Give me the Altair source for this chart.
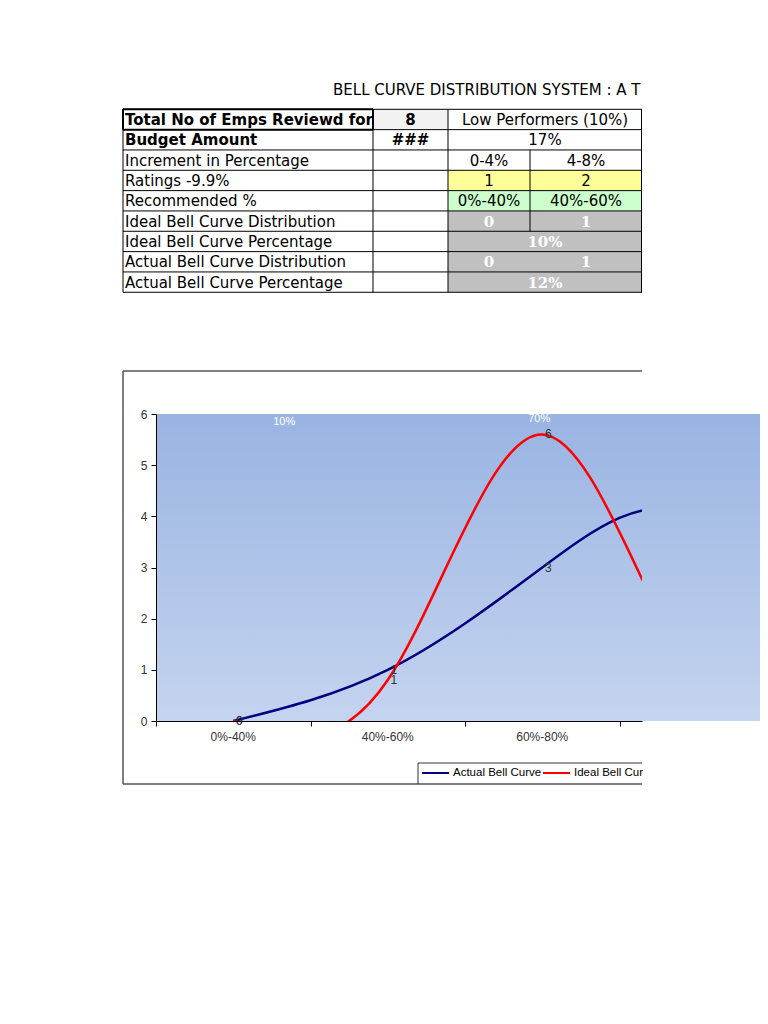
import altair as alt
import pandas as pd

# ---------------- data ----------------
title_text = "BELL CURVE DISTRIBUTION SYSTEM : A T"
row_labels = ["Total No of Emps Reviewd for", "Budget Amount", "Increment in Percentage",
              "Ratings -9.9%", "Recommended %", "Ideal Bell Curve Distribution",
              "Ideal Bell Curve Percentage", "Actual Bell Curve Distribution",
              "Actual Bell Curve Percentage"]
col_values = ["8", "###", "", "", "", "", "", "", ""]
group_label = "Low Performers (10%)"
budget_share = "17%"
increments = ["0-4%", "4-8%"]
ratings = ["1", "2"]
categories = ["0%-40%", "40%-60%", "60%-80%", "80%-90%", "90%-100%"]
actual = [0, 1, 3, 4, 0]
ideal = [0, 0.8, 5.6, 0.8, 0.8]
ideal_share = "10%"
actual_share = "12%"
series_names = ["Actual Bell Curve", "Ideal Bell Curve"]
series_colors = ["#000080", "#ff0000"]
band_labels = ["10%", "70%"]
band_label_pos = [0.83, 2.48]
band_label_val = [5.85, 5.9]
y_ticks = [0, 1, 2, 3, 4, 5, 6]

# ---------------- layout (page pixels) ----------------
OX, OY = 156, 414          # plot origin on the page
W, H = 486, 307            # visible plot area
CAT = 154.5                # width of one category band
XMAX = W / CAT
PAGE_RIGHT = 760           # right edge of the drawable page area
TFONT = 15


def px(x):
    return x - OX


def py(y):
    return y - OY


COLS = [123, 373, 448, 530, 642]
TOP, RH = 109.3, 20.33


def ry(i):
    return TOP + RH * i


def rc(i):
    return py(ry(i) + RH / 2 + 0.5)


C1 = (COLS[1] + COLS[2]) / 2
C2 = (COLS[2] + COLS[3]) / 2
C3 = (COLS[3] + COLS[4]) / 2
CM = (COLS[2] + COLS[4]) / 2

# ---------------- table content ----------------
txt = []  # text, x, y, style, align
for i, lab in enumerate(row_labels):
    txt.append((lab, px(125), rc(i), "bold" if i < 2 else "normal", "left"))
for i, v in enumerate(col_values):
    if v:
        txt.append((v, px(C1), rc(i), "bold" if i < 2 else "normal", "center"))
txt.append((group_label, px(CM), rc(0), "normal", "center"))
txt.append((budget_share, px(CM), rc(1), "normal", "center"))
for j, cx in enumerate([C2, C3]):
    txt.append((increments[j], px(cx), rc(2), "normal", "center"))
    txt.append((ratings[j], px(cx), rc(3), "normal", "center"))
    txt.append((categories[j], px(cx), rc(4), "normal", "center"))
    txt.append((f"{ideal[j]:.0f}", px(cx), rc(5), "white", "center"))
    txt.append((f"{actual[j]:.0f}", px(cx), rc(7), "white", "center"))
txt.append((ideal_share, px(CM), rc(6), "white", "center"))
txt.append((actual_share, px(CM), rc(8), "white", "center"))
tdf = pd.DataFrame(txt, columns=["text", "x", "y", "style", "align"])

fills = pd.DataFrame([
    (px(COLS[1]), px(COLS[2]), py(ry(0)), py(ry(1)), "#f2f2f2"),
    (px(COLS[2]), px(COLS[4]), py(ry(3)), py(ry(4)), "#ffff99"),
    (px(COLS[2]), px(COLS[4]), py(ry(4)), py(ry(5)), "#ccffcc"),
    (px(COLS[2]), px(COLS[4]), py(ry(5)), py(ry(9)), "#c0c0c0"),
], columns=["x", "x2", "y", "y2", "fill"])

rules = []
for i in range(10):
    rules.append((px(COLS[0]), px(COLS[4]), py(ry(i)), py(ry(i))))
for c in [COLS[0], COLS[1], COLS[2], COLS[4] - 0.5]:
    rules.append((px(c), px(c), py(ry(0)), py(ry(9))))
rules.append((px(COLS[3]), px(COLS[3]), py(ry(2)), py(ry(6))))
rdf = pd.DataFrame(rules, columns=["x", "x2", "y", "y2"])

thick = pd.DataFrame([
    (px(COLS[0]), px(COLS[1]), py(ry(0)), py(ry(0))),
    (px(COLS[0]), px(COLS[1]), py(ry(1)), py(ry(1))),
    (px(COLS[0]), px(COLS[0]), py(ry(0)), py(ry(1))),
    (px(COLS[1]), px(COLS[1]), py(ry(0)), py(ry(1))),
], columns=["x", "x2", "y", "y2"])

frame = pd.DataFrame([
    (px(123), px(642), py(371), py(371)),
    (px(123), px(123), py(371), py(784)),
    (px(123), px(642), py(784), py(784)),
], columns=["x", "x2", "y", "y2"])

legbox = pd.DataFrame([
    (px(418), px(642), py(763), py(763)),
    (px(418), px(418), py(763), py(784)),
], columns=["x", "x2", "y", "y2"])

LEG_X0, LEG_STEP, LEG_Y = 422, 121, 773
leg = pd.DataFrame({
    "series": series_names,
    "x": [px(LEG_X0 + k * LEG_STEP) for k in range(len(series_names))],
    "x2": [px(LEG_X0 + 27 + k * LEG_STEP) for k in range(len(series_names))],
    "tx": [px(LEG_X0 + 31 + k * LEG_STEP) for k in range(len(series_names))],
    "y": [py(LEG_Y)] * len(series_names),
})

# ---------------- series data ----------------
pos = [i + 0.5 for i in range(len(categories))]
long = pd.concat([
    pd.DataFrame({"series": s, "pos": pos, "cat": categories, "value": vals})
    for s, vals in zip(series_names, [actual, ideal])
], ignore_index=True)
cats = pd.DataFrame({"pos": pos, "cat": categories})
bands = pd.DataFrame({"text": band_labels, "pos": band_label_pos, "value": band_label_val})

x_scale = alt.Scale(domain=[0, XMAX], nice=False, zero=False)
y_scale = alt.Scale(domain=[0, 6], nice=False)
x_axis = alt.Axis(values=list(range(int(XMAX) + 1)), labels=False, tickSize=5,
                  tickColor="black", domainColor="black", grid=False, title=None, zindex=1)
y_axis = alt.Axis(values=y_ticks, tickSize=5, tickColor="black", domainColor="black",
                  labelFont="Liberation Sans", labelFontSize=12, labelColor="#333333",
                  labelPadding=4, grid=False, title=None, zindex=1)
X_ENC = alt.X("pos:Q", scale=x_scale, axis=x_axis)
Y_ENC = alt.Y("value:Q", scale=y_scale, axis=y_axis)
color_scale = alt.Scale(domain=series_names, range=series_colors)

PX_X = alt.X("x:Q", scale=None, axis=None)
PX_X2 = alt.X2("x2:Q")
PX_Y = alt.Y("y:Q", scale=None, axis=None)
PX_Y2 = alt.Y2("y2:Q")

# ---------------- layers ----------------
background = alt.Chart(pd.DataFrame({"a": [0]})).mark_rect(
    fill={"gradient": "linear", "x1": 0, "x2": 0, "y1": 0, "y2": 1,
          "stops": [{"offset": 0, "color": "#99b4e2"}, {"offset": 1, "color": "#c5d4ef"}]}
).encode(x=alt.value(0), x2=alt.value(px(PAGE_RIGHT)), y=alt.value(0), y2=alt.value(H))

lines = alt.Chart(long).mark_line(interpolate="natural", strokeWidth=2.5, clip=True).encode(
    x=X_ENC, y=Y_ENC,
    color=alt.Color("series:N", scale=color_scale, legend=None),
)

point_labels = alt.Chart(long).transform_filter(f"datum.pos < {XMAX}").mark_text(
    align="center", baseline="middle", dx=6, font="Liberation Sans", fontSize=12, color="#333333"
).encode(x=X_ENC, y=Y_ENC, text=alt.Text("value:Q", format=".0f"))

band_text = alt.Chart(bands).mark_text(
    align="center", baseline="middle", font="Liberation Sans", fontSize=11, color="white"
).encode(x=X_ENC, y=Y_ENC, text="text:N")

cat_labels = alt.Chart(cats).transform_filter(f"datum.pos < {XMAX}").mark_text(
    align="center", baseline="middle", dy=16, font="Liberation Sans", fontSize=12, color="#333333"
).encode(x=X_ENC, y=alt.value(H), text="cat:N")

fill_layer = alt.Chart(fills).mark_rect().encode(
    x=PX_X, x2=PX_X2, y=PX_Y, y2=PX_Y2, fill=alt.Fill("fill:N", scale=None))

grid_layer = alt.Chart(rdf).mark_rule(color="black", strokeWidth=1).encode(
    x=PX_X, x2=PX_X2, y=PX_Y, y2=PX_Y2)
thick_layer = alt.Chart(thick).mark_rule(color="black", strokeWidth=2).encode(
    x=PX_X, x2=PX_X2, y=PX_Y, y2=PX_Y2)
frame_layer = alt.Chart(frame).mark_rule(color="#555555", strokeWidth=1.5).encode(
    x=PX_X, x2=PX_X2, y=PX_Y, y2=PX_Y2)
legbox_layer = alt.Chart(legbox).mark_rule(color="#333333", strokeWidth=1).encode(
    x=PX_X, x2=PX_X2, y=PX_Y, y2=PX_Y2)

leg_sym = alt.Chart(leg).mark_rule(strokeWidth=2).encode(
    x=PX_X, x2=PX_X2, y=PX_Y,
    color=alt.Color("series:N", scale=color_scale, legend=None))
leg_text_layers = []
for k, s in enumerate(series_names):
    leg_text_layers.append(
        alt.Chart(leg).transform_filter(alt.datum.series == s).mark_text(
            align="left", baseline="middle", font="Liberation Sans", fontSize=11.5, color="black",
            limit=px(645) - leg["tx"][k], ellipsis="\u200b"
        ).encode(x=alt.X("tx:Q", scale=None, axis=None), y=PX_Y, text="series:N"))


def text_layer(df, **kw):
    return alt.Chart(df).mark_text(baseline="middle", fontSize=TFONT, **kw).encode(
        x=PX_X, y=PX_Y, text="text:N")


t_left_bold = text_layer(tdf[(tdf["style"] == "bold") & (tdf["align"] == "left")], align="left",
                         font="DejaVu Sans", fontWeight="bold", color="black",
                         limit=COLS[1] - 124, ellipsis="\u200b")
t_left = text_layer(tdf[(tdf["style"] == "normal") & (tdf["align"] == "left")], align="left",
                    font="DejaVu Sans", color="black", limit=COLS[1] - 124, ellipsis="\u200b")
t_center_bold = text_layer(tdf[(tdf["style"] == "bold") & (tdf["align"] == "center")], align="center",
                           font="DejaVu Sans", fontWeight="bold", color="black")
t_center = text_layer(tdf[(tdf["style"] == "normal") & (tdf["align"] == "center")], align="center",
                      font="DejaVu Sans", color="black")
t_white = text_layer(tdf[tdf["style"] == "white"], align="center",
                     font="DejaVu Serif", fontWeight="bold", color="white")

title_layer = text_layer(pd.DataFrame({"text": [title_text], "x": [px(333)], "y": [py(90)]}),
                         align="left", font="DejaVu Sans", color="black")

chart = alt.layer(
    background, lines, point_labels, band_text, cat_labels,
    fill_layer, grid_layer, thick_layer, frame_layer, legbox_layer, leg_sym,
    *leg_text_layers,
    t_left_bold, t_left, t_center_bold, t_center, t_white, title_layer,
).properties(
    width=W, height=H,
    autosize=alt.AutoSizeParams(type="none"),
    padding={"left": OX - 8, "top": OY - 8, "right": PAGE_RIGHT - OX - W, "bottom": 80},
    background="white",
).configure_view(strokeWidth=0)

chart.save("out.html", embed_options={"renderer": "svg", "actions": False})
